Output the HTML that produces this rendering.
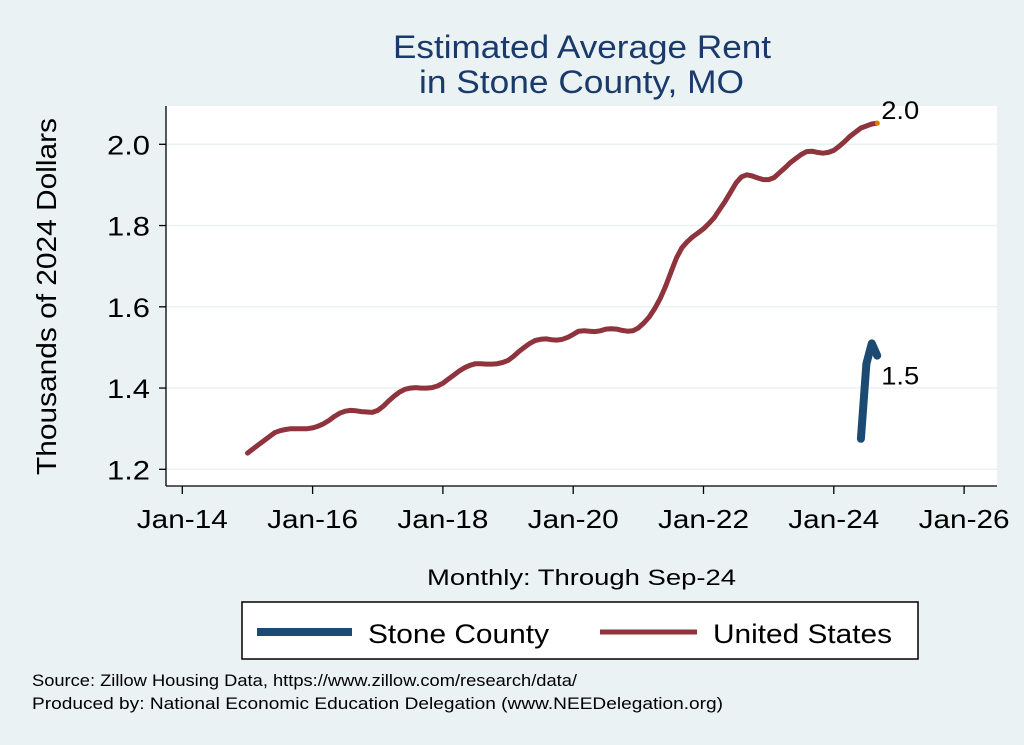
<!DOCTYPE html>
<html><head><meta charset="utf-8"><style>
body{margin:0;background:#eaf2f3;}
svg{display:block;font-family:"Liberation Sans",Arial,sans-serif;}
</style></head><body>
<svg width="1024" height="745" viewBox="0 0 1024 745">
<rect x="0" y="0" width="1024" height="745" fill="#eaf2f3"/>
<text x="393" y="58" textLength="378" lengthAdjust="spacingAndGlyphs" font-size="32" fill="#1a3a6b">Estimated Average Rent</text>
<text x="419" y="93" textLength="325" lengthAdjust="spacingAndGlyphs" font-size="32" fill="#1a3a6b">in Stone County, MO</text>
<rect x="166" y="106" width="831" height="380" fill="#fff"/>
<g id="grid"></g>
<g id="marks"></g>
<g id="axes"></g>
<text transform="translate(56,475) rotate(-90)" textLength="357" lengthAdjust="spacingAndGlyphs" font-size="28" fill="#000">Thousands of 2024 Dollars</text>
<text x="427" y="585" textLength="309" lengthAdjust="spacingAndGlyphs" font-size="22" fill="#000">Monthly: Through Sep-24</text>
<g>
<rect x="242" y="602" width="676" height="57" fill="#fff" stroke="#000" stroke-width="1.5"/>
<line x1="257" y1="632" x2="352" y2="632" stroke="#1d4a72" stroke-width="8"/>
<text x="368" y="643" textLength="181" lengthAdjust="spacingAndGlyphs" font-size="27" fill="#000">Stone County</text>
<line x1="600" y1="632" x2="697" y2="632" stroke="#8f333c" stroke-width="5"/>
<text x="713" y="643" textLength="179" lengthAdjust="spacingAndGlyphs" font-size="27" fill="#000">United States</text>
</g>
<text x="32" y="686" textLength="545" lengthAdjust="spacingAndGlyphs" font-size="16.5" fill="#000">Source: Zillow Housing Data, https://www.zillow.com/research/data/</text>
<text x="32" y="709" textLength="691" lengthAdjust="spacingAndGlyphs" font-size="16.5" fill="#000">Produced by: National Economic Education Delegation (www.NEEDelegation.org)</text>
</svg>
<script>
const yTicks=[1.2,1.4,1.6,1.8,2.0];
const yTickLabels=["1.2","1.4","1.6","1.8","2.0"];
const xTickYears=[2014,2016,2018,2020,2022,2024,2026];
const xTickLabels=["Jan-14","Jan-16","Jan-18","Jan-20","Jan-22","Jan-24","Jan-26"];
const usStartYear=2015;
const usValues=[
1.24,1.25,1.26,1.27,1.28,1.29,1.295,1.298,1.30,1.30,1.30,1.30,
1.302,1.306,1.312,1.32,1.33,1.338,1.343,1.345,1.344,1.342,1.341,1.34,
1.345,1.355,1.368,1.38,1.39,1.397,1.40,1.401,1.40,1.40,1.401,1.405,
1.412,1.422,1.432,1.442,1.45,1.456,1.46,1.46,1.459,1.459,1.46,1.463,
1.468,1.478,1.49,1.50,1.51,1.517,1.52,1.521,1.519,1.518,1.52,1.525,
1.532,1.54,1.541,1.54,1.539,1.541,1.545,1.546,1.545,1.542,1.54,1.541,
1.548,1.56,1.575,1.595,1.62,1.65,1.685,1.72,1.745,1.76,1.772,1.782,
1.792,1.805,1.82,1.84,1.86,1.882,1.905,1.92,1.925,1.922,1.917,1.913,
1.913,1.918,1.93,1.942,1.955,1.965,1.975,1.982,1.983,1.98,1.978,1.98,
1.985,1.995,2.007,2.02,2.03,2.04,2.045,2.05,2.052];
const stoneStartYear=2024, stoneStartMonth=5;
const stoneValues=[1.275,1.46,1.51,1.48];
const usLabel="2.0", stoneLabel="1.5";

const NS="http://www.w3.org/2000/svg";
const X=t=>182.3+(t-2014)*65.15;
const Y=v=>469.3-(v-1.2)*406.25;
function mk(tag,attrs,parent){const e=document.createElementNS(NS,tag);for(const k in attrs)e.setAttribute(k,attrs[k]);document.getElementById(parent).appendChild(e);return e;}
yTicks.forEach((v,i)=>{
 const g=mk('line',{x1:166,x2:997,y1:Y(v),y2:Y(v),stroke:'#eaf2f3','stroke-width':1.5},'grid');
 
 
 const t=mk('line',{x1:159,x2:166,y1:Y(v),y2:Y(v),stroke:'#000','stroke-width':1.3},'axes');
 
 
 const l=mk('text',{x:107,y:Y(v)+10,textLength:43,lengthAdjust:'spacingAndGlyphs','font-size':27,fill:'#000'},'axes');
 l.textContent=yTickLabels[i];
 
 
});
xTickYears.forEach((yr,i)=>{
 const t=mk('line',{x1:X(yr),x2:X(yr),y1:486,y2:494,stroke:'#000','stroke-width':1.3},'axes');
 
 
 const l=mk('text',{x:X(yr)-45.5,y:528,textLength:91,lengthAdjust:'spacingAndGlyphs','font-size':26,fill:'#000'},'axes');
 l.textContent=xTickLabels[i];
 
 
});
const ya=mk('line',{x1:166,x2:166,y1:106,y2:486,stroke:'#000','stroke-width':1.3},'axes');


const xa=mk('line',{x1:166,x2:997,y1:486,y2:486,stroke:'#000','stroke-width':1.3},'axes');



const usPts=usValues.map((v,i)=>X(usStartYear+i/12).toFixed(1)+','+Y(v).toFixed(1)).join(' ');
const us=mk('polyline',{points:usPts,fill:'none',stroke:'#8f333c','stroke-width':5,'stroke-linejoin':'round','stroke-linecap':'round'},'marks');


const stPts=stoneValues.map((v,i)=>X(stoneStartYear+(stoneStartMonth+i)/12).toFixed(1)+','+Y(v).toFixed(1)).join(' ');
const st=mk('polyline',{points:stPts,fill:'none',stroke:'#1d4a72','stroke-width':8,'stroke-linejoin':'round','stroke-linecap':'round'},'marks');


const ul=usValues.length-1, ux=X(usStartYear+ul/12), uy=Y(usValues[ul]);
const dot=mk('circle',{cx:ux,cy:uy,r:2.5,fill:'#e07b00'},'marks');


const ut=mk('text',{x:ux+4,y:uy-4,textLength:38,lengthAdjust:'spacingAndGlyphs','font-size':25,fill:'#000'},'marks');
ut.textContent=usLabel;


const sl=stoneValues.length-1, sx=X(stoneStartYear+(stoneStartMonth+sl)/12), sy=Y(stoneValues[sl]);
const stt=mk('text',{x:sx+4,y:sy+29,textLength:38,lengthAdjust:'spacingAndGlyphs','font-size':25,fill:'#000'},'marks');
stt.textContent=stoneLabel;


</script>
</body></html>
